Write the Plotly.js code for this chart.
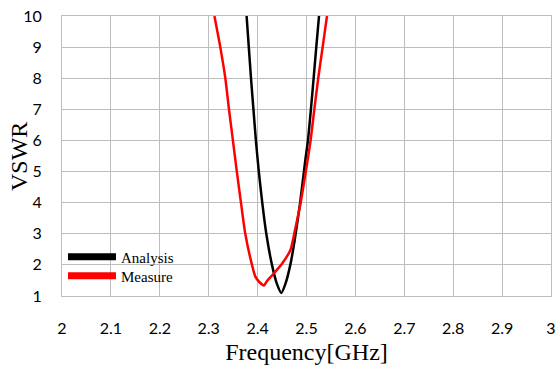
<!DOCTYPE html>
<html>
<head>
<meta charset="utf-8">
<script src="https://cdn.plot.ly/plotly-3.0.1.min.js"></script>
<style>
html,body{margin:0;padding:0;background:#fff;}
#chart{width:555px;height:369px;}
</style>
</head>
<body>
<div id="chart"></div>
<script>
// Frequency [GHz] and VSWR values
var analysisFreq = [2.3775, 2.382, 2.3865, 2.3915, 2.3965, 2.4025, 2.4095, 2.4178, 2.4294, 2.4397, 2.4485, 2.4567, 2.4669, 2.4757, 2.487, 2.4975, 2.503, 2.509, 2.5146, 2.520, 2.5256];
var analysisVSWR = [10, 9, 8, 7, 6, 5, 4, 3, 2, 1.38, 1.10, 1.38, 2.0, 2.78, 4, 5.36, 6, 7, 8, 9, 10];

var measureFreq = [2.3117, 2.3237, 2.334, 2.3415, 2.3495, 2.3575, 2.366, 2.3748, 2.3885, 2.395, 2.4035, 2.4131, 2.4192, 2.4294, 2.4499, 2.4669, 2.477, 2.488, 2.5022, 2.5084, 2.516, 2.524, 2.533, 2.5419];
var measureVSWR = [10, 9, 8, 7, 6, 5, 4, 3, 2, 1.64, 1.45, 1.34, 1.48, 1.66, 2.04, 2.47, 3.16, 4, 5.36, 6, 7, 8, 9, 10];

var xTicks = [2, 2.1, 2.2, 2.3, 2.4, 2.5, 2.6, 2.7, 2.8, 2.9, 3];
var xTickLabels = ["2", "2.1", "2.2", "2.3", "2.4", "2.5", "2.6", "2.7", "2.8", "2.9", "3"];
var yTicks = [1, 2, 3, 4, 5, 6, 7, 8, 9, 10];

var seriesNames = ["Analysis", "Measure"];

var traces = [
  {x: analysisFreq, y: analysisVSWR, mode: "lines", line: {color: "#000000", width: 2.5, shape: "spline", smoothing: 0.6}, name: seriesNames[0], showlegend: false},
  {x: measureFreq, y: measureVSWR, mode: "lines", line: {color: "#ff0000", width: 2.5, shape: "spline", smoothing: 0.6}, name: seriesNames[1], showlegend: false},
  {x: [null], y: [null], mode: "lines", line: {color: "#000000", width: 7}, name: seriesNames[0], showlegend: true, legend: "legend"},
  {x: [null], y: [null], mode: "lines", line: {color: "#ff0000", width: 7}, name: seriesNames[1], showlegend: true, legend: "legend2"}
];

var gridColor = "#bdbdbd";
var serif = "Liberation Serif, Times New Roman, serif";
var legendCommon = {
  xanchor: "left", yanchor: "middle",
  bgcolor: "rgba(0,0,0,0)",
  borderwidth: 0,
  font: {family: serif, size: 15, color: "#000"},
  itemwidth: 48
};

var layout = {
  width: 555, height: 369,
  margin: {l: 62, r: 4, t: 16, b: 73},
  paper_bgcolor: "#ffffff",
  plot_bgcolor: "#ffffff",
  showlegend: true,
  legend: Object.assign({x: 0.002, y: 0.139}, legendCommon),
  legend2: Object.assign({x: 0.002, y: 0.071}, legendCommon),
  xaxis: {
    range: [2, 3],
    tickvals: xTicks, ticktext: xTickLabels,
    ticklabeloverflow: "allow",
    showgrid: true, gridcolor: gridColor, gridwidth: 1,
    showline: true, linecolor: gridColor, linewidth: 1, mirror: true,
    zeroline: false,
    ticks: "",
    ticklabelstandoff: 18,
    tickfont: {family: "Lato, sans-serif", size: 16, color: "#000"},
    title: {text: "Frequency[GHz]", font: {family: serif, size: 24, color: "#000"}, standoff: 6}
  },
  yaxis: {
    range: [1, 10],
    tickvals: yTicks,
    showgrid: true, gridcolor: gridColor, gridwidth: 1,
    showline: true, linecolor: gridColor, linewidth: 1, mirror: true,
    zeroline: false,
    ticks: "",
    ticklabelstandoff: 16,
    tickfont: {family: "Lato, sans-serif", size: 16, color: "#000"}
  },
  annotations: [{
    text: "VSWR", xref: "paper", yref: "paper", x: -0.088, y: 0.5,
    xanchor: "center", yanchor: "middle", textangle: -90, showarrow: false,
    font: {family: serif, size: 24, color: "#000"}
  }]
};

Plotly.newPlot("chart", traces, layout, {staticPlot: true, displayModeBar: false});
</script>
</body>
</html>
